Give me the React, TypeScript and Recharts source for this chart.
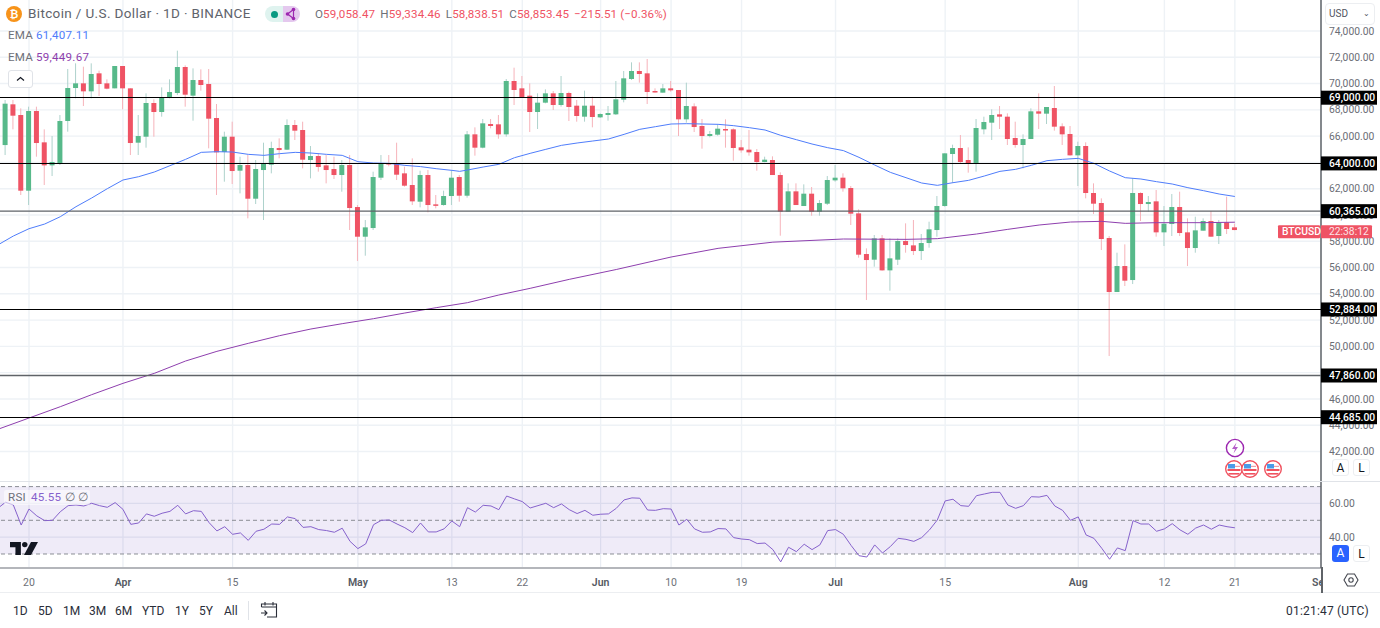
import React from "react";
import {
  ComposedChart, Bar, Line, XAxis, YAxis, CartesianGrid, ReferenceLine, ReferenceArea,
} from "recharts";

// Days are counted from 20 March; the first candle is 16 March.
const firstDay = -4;
const opens = [
  69560,65320,68420,67606,61847,67911,65526,63775,63877,67150,
  69661,70016,69408,70778,70016,69636,71336,69636,65501,65957,
  68520,67835,68926,69281,71260,69078,70270,69966,67378,64790,
  65957,63370,63801,61238,63420,63826,65095,64968,66845,66465,
  64181,64486,63775,63496,63040,63801,60604,58346,59006,62837,
  63950,63902,63167,62279,61011,63040,60808,60757,61442,62888,
  61467,66135,65121,66922,66897,66135,70195,69636,69078,67835,
  68546,69256,68368,69281,68317,67480,68317,67429,67607,67658,
  68774,70347,70956,70778,69433,69307,69636,69510,67277,68266,
  66770,66008,66110,66541,66516,65146,64968,64791,64030,64182,
  63040,60249,61797,60681,61620,60249,60858,62634,62838,62051,
  60123,57028,56596,58220,55785,56596,58017,57687,57256,57865,
  58854,60681,64639,65095,64182,63928,66516,67023,67658,67480,
  65857,65324,65780,67886,67709,68140,66744,66161,64537,65248,
  61671,60910,58246,54136,56114,55049,61671,60833,61036,58677,
  59311,60605,58677,57485,58804,59539,58398,59438,59058.47,
];
const highs = [
  70020,68750,68750,68114,68241,68241,66515,66008,67606,71107,
  71539,71285,71539,70981,70321,71336,71336,69636,67606,69255,
  68799,69712,70321,72503,71386,71158,71082,71107,68444,66338,
  67099,64435,64562,64181,65501,65577,65830,67277,67226,67099,
  65247,64689,64562,64435,64181,64562,60757,59615,63294,64562,
  64562,65501,63674,64308,63370,63421,61518,61848,63421,63040,
  66389,66668,67302,67302,67607,70347,71209,70575,70017,69256,
  69560,69433,70575,69383,68748,69459,69002,67734,68292,70195,
  70956,71615,71615,71869,69636,69966,70195,69510,70068,68495,
  67302,66389,66871,67277,66592,65704,66465,65019,64436,64461,
  63243,62406,62406,62330,62127,61137,62964,63801,63167,62203,
  60427,57459,58474,58474,58220,58220,59362,59616,58550,59489,
  61442,64690,65349,66085,65146,67303,67480,68038,68292,67734,
  67100,66136,68114,69256,68216,69814,66973,66770,65577,65527,
  62406,61264,58398,57129,57764,62787,61722,61442,61899,60681,
  61594,61772,59742,59869,59742,60300,59616,61391,59334.46,
];
const lows = [
  64435,64560,66515,61518,60757,64435,62279,62964,63801,66338,
  68875,68291,68875,69052,69560,69636,68038,64562,64562,65120,
  65957,67480,68875,69129,68241,67175,69458,65069,61518,62532,
  62355,61644,59742,60833,59615,63167,64308,64942,65704,63547,
  62786,63294,62405,62735,61771,58854,56500,56900,58854,62659,
  63700,62659,62152,60757,60579,60199,60503,60706,60757,61011,
  61315,64512,65070,66592,65806,65958,68368,68951,66313,66541,
  68495,67987,68241,67150,67099,67099,66668,67378,67175,67607,
  68571,70271,70068,68444,69307,69307,69383,66008,67023,66313,
  65044,65907,66034,65121,64131,64740,64512,63370,64004,63040,
  58423,60249,60757,60681,59945,59945,60757,62533,61772,59235,
  56749,53527,56064,55760,54237,56190,57129,56952,56571,57510,
  58347,60630,62457,63928,63218,63294,66136,65704,66542,65324,
  65121,63548,65780,66542,66922,66415,65324,64512,62203,61264,
  60072,57332,49265,54136,54592,54744,59540,60250,58347,57637,
  58398,58398,56114,57129,58804,58347,57789,58550,58838.51,
];
const closes = [
  65320,68470,67555,61847,67911,65475,63775,64029,67150,69661,
  70016,69408,70727,69966,69611,71336,69636,65475,66008,68520,
  67835,68951,69357,71260,69154,70270,69890,67327,64765,65957,
  63344,63801,61238,63496,63902,65095,64942,66845,66414,64207,
  64486,63649,63420,63040,63801,60528,58346,59057,62887,63902,
  63880,63065,62228,61036,63040,60757,60757,61442,62837,61467,
  66135,65121,66973,66770,66135,70195,69510,68951,67835,68546,
  69256,68368,69281,68216,67531,68317,67455,67683,67759,68799,
  70398,70956,70727,69357,69383,69636,69484,67277,68292,66693,
  66008,66161,66567,66465,65095,64917,64765,64030,64207,63040,
  60249,61797,60757,61620,60249,60909,62660,62837,62026,60098,
  56977,56571,58220,55785,56698,58017,57713,57256,57865,58905,
  60681,64690,65095,64030,63928,66618,67074,67607,67480,65780,
  65324,65780,67886,67709,68216,66719,66136,64537,65248,61671,
  60859,58169,54136,56114,54998,61671,60833,60985,58677,59336,
  60605,58626,57485,58829,59539,58347,59413,58930,58853.45,
];
const emaFastDays = [-4,-2,0,2,4,6,8,10,12,14,16,18,20,22,24,26,28,30,32,34,36,38,40,42,44,46,48,50,52,54,55,56,58,60,62,64,66,68,70,72,74,76,78,80,82,84,86,88,90,92,94,96,98,100,102,104,106,108,110,112,114,116,118,120,122,124,126,128,130,132,134,136,138,140,142,144,146,148,150,152,154];
const emaFast = [57712,58398,58955,59310,59868,60630,61290,62000,62660,62913,63268,63750,64232,64765,64816,64790,64613,64537,64664,64765,64714,64613,64537,64055,63953,63928,63775,63680,63522,63395,63319,63421,63649,63852,64359,64689,64994,65298,65476,65628,65780,66135,66516,66719,66922,66947,66922,66897,66795,66643,66465,66059,65729,65400,65121,64900,64385,63802,63243,62838,62432,62254,62457,62635,62964,63319,63472,63776,64131,64233,64309,63928,63345,62838,62736,62533,62356,62076,61848,61594,61407.11];
const emaSlowDays = [-4,0,4,8,12,16,20,24,28,32,36,40,44,48,52,56,60,64,69,75,82,88,95,104,112,116,121,125,129,133,137,140,144,150,154];
const emaSlow = [43685,44548,45410,46324,47186,47947,48886,49622,50230,50814,51322,51727,52108,52539,52945,53326,53909,54417,55100,55850,56800,57460,57930,58170,58144,58195,58550,58905,59235,59463,59514,59362,59413,59413,59449.67];
const rsi = [
  57.1,60.7,59.1,47.2,56.7,52.6,49.8,50,55.1,58.7,59.1,58.5,60.1,58.7,57.7,60.5,56.5,47.6,48.4,53.8,
  52.4,54.2,55.3,58.9,53.8,55.7,55.3,48.6,43.7,46.2,41.7,42.5,38.1,43.5,44.7,47.8,47.6,52,51,45.8,
  46.2,44.5,43.9,42.9,45.3,37.5,33.2,36,47.4,50,50.2,47.8,45.6,42.7,48.4,43.1,43.1,44.9,49.6,46.2,
  57.5,54.9,58.9,58.5,56.3,64.4,62.7,61.1,57.3,58.7,60.1,57.5,59.7,56.3,54,55.9,53,53.6,53.8,57.1,
  62.1,63.3,63.1,56.1,55.9,56.9,56.7,47.2,50.6,44.9,42.9,43.1,45.1,44.9,39.7,38.9,38.5,36.2,36.5,32.6,
  25.3,34,31.4,35.8,32.6,35.4,43.9,44.5,41.7,35,29,28.2,35.4,30.6,34.4,39.3,38.7,37.5,39.7,44.3,
  50.2,61.5,62.5,58.7,58.3,64.6,65.6,66.6,66.6,59.1,57.1,58.7,64,63.8,64.8,58.5,55.9,50,52,41.3,
  39.3,33.4,26.9,33.6,32,49.8,47.8,47.8,43.5,44.9,48,44.3,41.7,45.4,47.2,44.7,47.2,46.2,45.55,
];
const gridTicks = [42000,44000,46000,48000,50000,52000,54000,56000,58000,60000,62000,64000,66000,68000,70000,72000,74000];
// 64,000 and 48,000 sit fully behind the level tags in the picture.
const labelledTicks = [42000,44000,46000,50000,52000,54000,56000,58000,60000,62000,66000,68000,70000,72000,74000];
const levels = [69000, 64000, 60365, 52884, 47860, 44685];
const greyLevels = [60365, 47860];
const dateTickDays = [0,12,26,42,54,63,73,82,91,103,117,134,145,154,165];
const dateTickLabels = ["20","Apr","15","May","13","22","Jun","10","19","Jul","15","Aug","12","21","Sep"];
const monthLabels = ["Apr","May","Jun","Jul","Aug","Sep"];
const rangeButtons = ["1D","5D","1M","3M","6M","YTD","1Y","5Y","All"];
const ohlc = [["O","59,058.47"],["H","59,334.46"],["L","58,838.51"],["C","58,853.45"]];

const rows = opens.map((open, i) => {
  const d = firstDay + i;
  const fi = emaFastDays.indexOf(d);
  const si = emaSlowDays.indexOf(d);
  return {
    d, open, high: highs[i], low: lows[i], close: closes[i], rsi: rsi[i],
    fast: fi >= 0 ? emaFast[fi] : null,
    slow: si >= 0 ? emaSlow[si] : null,
  };
});

const FONT = "Roboto, sans-serif";
const xDomain: [number, number] = [-3.704, 165];
const priceDomain: [number, number] = [39755, 76359];
const money = (v: number) => v.toLocaleString("en-US", { minimumFractionDigits: 2, maximumFractionDigits: 2 });

const Candle = (p: any) => {
  const { x, y, width, height, payload } = p;
  const { open, close, high, low } = payload;
  const k = height / Math.max(high - low, 1);
  const top = y + (high - Math.max(open, close)) * k;
  const bot = y + (high - Math.min(open, close)) * k;
  const cx = x + width / 2;
  const up = close >= open;
  return (
    <g>
      <line x1={cx} x2={cx} y1={y} y2={y + height} stroke={up ? "#aed2cc" : "#f6b3ba"} strokeWidth={1} />
      <rect x={cx - 2.5} y={top} width={5} height={Math.max(bot - top, 1.5)} fill={up ? "#57b98a" : "#ef5364"} />
    </g>
  );
};

const Tag = (p: any) => {
  const { viewBox, text } = p;
  const x = viewBox.x + viewBox.width;
  return (
    <g>
      <rect x={x} y={viewBox.y - 7} width={56} height={14} fill="#000" />
      <text x={x + 8} y={viewBox.y + 3.6} fill="#fff" fontFamily={FONT} fontSize={10.3} fontWeight={500}>{text}</text>
    </g>
  );
};

const LiveTag = (p: any) => {
  const { viewBox } = p;
  const x = viewBox.x + viewBox.width;
  const y = viewBox.y + 0.6;
  return (
    <g>
      <rect x={x - 43} y={y - 6.5} width={42} height={13} rx={1} fill="#ef5364" />
      <text x={x - 39} y={y + 3.6} fill="#fff" fontFamily={FONT} fontSize={10.3} fontWeight={500}>BTCUSD</text>
      <rect x={x} y={y - 6.5} width={51} height={13} rx={1} fill="#ef5364" />
      <text x={x + 8} y={y + 3.6} fill="#fde4e6" fontFamily={FONT} fontSize={10.3}>22:38:12</text>
    </g>
  );
};

const DateTick = (p: any) => {
  const { x, y, payload } = p;
  const label = dateTickLabels[dateTickDays.indexOf(payload.value)];
  const month = monthLabels.includes(label);
  return (
    <text x={x} y={y + 10} textAnchor="middle" fontFamily={FONT} fontSize={10.5}
      fontWeight={month ? 600 : 400} fill={month ? "#555962" : "#6d7078"}>{label}</text>
  );
};

const abs = (left: number, top: number, extra: React.CSSProperties = {}): React.CSSProperties => ({
  position: "absolute", left, top, whiteSpace: "nowrap", fontFamily: FONT, lineHeight: 1, ...extra,
});

const Flag = ({ cx }: { cx: number }) => (
  <svg style={abs(cx - 10, 459, { width: 20, height: 20 })} viewBox="0 0 20 20">
    <circle cx="10" cy="10" r="8.3" fill="#fff" stroke="#f0525f" strokeWidth="1.4" />
    <rect x="3.5" y="10" width="13" height="2" fill="#f0525f" />
    <rect x="4.5" y="14" width="11" height="1.6" fill="#f0525f" />
    <rect x="4" y="5" width="7" height="4.5" fill="#4a9be8" />
    <rect x="11" y="6.8" width="5" height="1.2" fill="#f0a0a8" />
  </svg>
);

const ToggleBtn = ({ left, top, label, active }: { left: number; top: number; label: string; active?: boolean }) => (
  <div style={abs(left, top, {
    width: 17, height: 17, borderRadius: 3, background: active ? "#2962ff" : "#fff",
    border: active ? "none" : "1px solid #eceef1", color: active ? "#fff" : "#131722",
    fontSize: 12, textAlign: "center", lineHeight: active ? "17px" : "16px", boxSizing: "border-box",
  })}>{label}</div>
);

export default function App() {
  return (
    <div style={{ position: "fixed", left: 0, top: 0, width: 1380, height: 628, background: "#fff", overflow: "hidden" }}>
      <div style={{ position: "absolute", left: 0, top: 0 }}>
        <ComposedChart width={1380} height={481} data={rows} margin={{ top: 0, right: 0, bottom: 0, left: 0 }}>
          <CartesianGrid stroke="#eef2f6" strokeWidth={1.4}
            horizontalValues={gridTicks} verticalValues={dateTickDays} />
          <XAxis dataKey="d" type="number" domain={xDomain} allowDataOverflow hide ticks={dateTickDays} />
          <YAxis orientation="right" width={59} domain={priceDomain} allowDataOverflow ticks={labelledTicks}
            tickFormatter={money} tickLine={false} tickMargin={2} interval={0}
            axisLine={{ stroke: "#5f6368", strokeWidth: 1.5 }}
            tick={{ fontFamily: FONT, fontSize: 10.3, fill: "#6a6d75" }} />
          <Bar dataKey={(r: any) => [r.low, r.high]} barSize={7} shape={<Candle />} isAnimationActive={false} />
          <Line dataKey="fast" stroke="#4f7dfb" strokeWidth={1} dot={false} connectNulls isAnimationActive={false} />
          <Line dataKey="slow" stroke="#8e3fae" strokeWidth={1} dot={false} connectNulls isAnimationActive={false} />
        </ComposedChart>
      </div>

      {/* Level lines and their tags lie over the scale labels */}
      <div style={{ position: "absolute", left: 0, top: 0.7 }}>
        <ComposedChart width={1380} height={481} data={rows} margin={{ top: 0, right: 0, bottom: 0, left: 0 }}>
          <XAxis dataKey="d" type="number" domain={xDomain} allowDataOverflow hide />
          <YAxis orientation="right" width={59} domain={priceDomain} allowDataOverflow ticks={[]} tick={false} tickLine={false} axisLine={false} />
          {levels.map((v) => (
            <ReferenceLine key={v} y={v} stroke={greyLevels.includes(v) ? "#5f6368" : "#000"}
              strokeWidth={greyLevels.includes(v) ? 1.4 : 1} shapeRendering={greyLevels.includes(v) ? undefined : "crispEdges"}
              label={<Tag text={money(v)} />} />
          ))}
          <ReferenceLine y={58853.45} stroke="none" label={<LiveTag />} />
        </ComposedChart>
      </div>

      <div style={{ position: "absolute", left: 0, top: 482 }}>
        <ComposedChart width={1380} height={110} data={rows} margin={{ top: 0, right: 0, bottom: 0, left: 0 }}>
          <CartesianGrid stroke="#e9edf3" strokeWidth={1.2} horizontalValues={[40, 60]} verticalValues={dateTickDays} />
          <XAxis dataKey="d" type="number" domain={xDomain} allowDataOverflow ticks={dateTickDays} interval={0}
            height={24} tickLine={false} axisLine={{ stroke: "#b4b6bb", strokeWidth: 2 }} tick={<DateTick />} />
          <YAxis orientation="right" width={59} domain={[21.69, 72.73]} allowDataOverflow ticks={[40, 60]}
            tickFormatter={(v: number) => v.toFixed(2)} tickLine={false} tickMargin={2} interval={0}
            axisLine={{ stroke: "#5f6368", strokeWidth: 1.5 }}
            tick={{ fontFamily: FONT, fontSize: 10.3, fill: "#6a6d75" }} />
          <ReferenceArea y1={30} y2={70} fill="#7e57c2" fillOpacity={0.12} stroke="none" />
          {[70, 50, 30].map((v) => (
            <ReferenceLine key={v} y={v} stroke="#8b8e94" strokeDasharray="4 3" strokeWidth={1} />
          ))}
          <Line dataKey="rsi" stroke="#8662cc" strokeWidth={1} dot={false} isAnimationActive={false} />
        </ComposedChart>
      </div>

      {/* pane and footer dividers */}
      <div style={abs(0, 481, { width: 1380, height: 1, background: "#e0e3e8" })} />
      <div style={abs(0, 592, { width: 1380, height: 1, background: "#eceef1" })} />

      {/* right-hand scale corner */}
      <div style={abs(1322, 569, { width: 58, height: 23, background: "#fff" })} />
      <div style={abs(1321, 567, { width: 1.5, height: 26, background: "#5f6368" })} />
      <svg style={abs(1343, 572, { width: 16, height: 16 })} viewBox="0 0 16 16">
        <path d="M4.5 2 H11.5 L15 8 L11.5 14 H4.5 L1 8 Z" fill="none" stroke="#44474f" strokeWidth="1.1" />
        <circle cx="8" cy="8" r="2.2" fill="none" stroke="#44474f" strokeWidth="1.1" />
      </svg>

      {/* USD selector */}
      <div style={abs(1325, 3, { width: 50, height: 22, background: "#fff", border: "1px solid #eceef1", borderRadius: 4, boxSizing: "border-box", fontSize: 10, color: "#50535e", padding: "5px 0 0 3px" })}>
        USD
        <span style={{ position: "absolute", right: 4, top: 6, fontSize: 8 }}>⌄</span>
      </div>

      {/* legend header */}
      <svg style={abs(6, 6, { width: 16, height: 16 })} viewBox="0 0 16 16">
        <circle cx="8" cy="8" r="8" fill="#f7931a" />
        <text x="8" y="11.6" fontSize="10.5" fontFamily={FONT} fontWeight="700" textAnchor="middle" fill="#fff">₿</text>
      </svg>
      <div style={abs(28, 7, { fontSize: 13.5, letterSpacing: 0.36, color: "#60636b" })}>Bitcoin / U.S. Dollar · 1D · BINANCE</div>
      <div style={abs(265, 6, { width: 18, height: 16, background: "#dff3ef", borderRadius: "8px 0 0 8px" })} />
      <div style={abs(283, 6, { width: 17, height: 16, background: "#e4c8ee", borderRadius: "0 8px 8px 0" })} />
      <div style={abs(271, 10.5, { width: 7, height: 7, borderRadius: 4, background: "#089981" })} />
      <svg style={abs(284, 7, { width: 14, height: 14 })} viewBox="0 0 14 14">
        <path d="M9.5 2.5 L3.5 7 L9.5 11.5 Z" fill="none" stroke="#9c27b0" strokeWidth="1.2" />
        <circle cx="9.5" cy="2.5" r="1.8" fill="#9c27b0" />
        <circle cx="3.5" cy="7" r="1.8" fill="#9c27b0" />
        <circle cx="9.5" cy="11.5" r="1.8" fill="#9c27b0" />
      </svg>
      <div style={abs(315, 8.5, { fontSize: 11.6, letterSpacing: 0.13, color: "#ef5364", display: "flex", gap: 5 })}>
        {ohlc.map(([k, v]) => (
          <span key={k}><span style={{ color: "#6d7078" }}>{k}</span>{v}</span>
        ))}
        <span>−215.51 (−0.36%)</span>
      </div>
      <div style={abs(8, 30, { fontSize: 11.6, letterSpacing: 0.25, color: "#6d7078" })}>EMA</div>
      <div style={abs(36, 30, { fontSize: 11.6, letterSpacing: 0.25, color: "#4f7dfb" })}>61,407.11</div>
      <div style={abs(8, 51.5, { fontSize: 11.6, letterSpacing: 0.25, color: "#6d7078" })}>EMA</div>
      <div style={abs(36, 51.5, { fontSize: 11.6, letterSpacing: 0.25, color: "#8e3fae" })}>59,449.67</div>
      <div style={abs(8, 70, { width: 25, height: 18, border: "1px solid #e0e3e8", borderRadius: 3, background: "#fff", boxSizing: "border-box" })}>
        <svg width="23" height="16" viewBox="0 0 23 16">
          <path d="M8 9.5 L11.5 6.5 L15 9.5" fill="none" stroke="#131722" strokeWidth="1.2" />
        </svg>
      </div>

      {/* RSI legend and logo */}
      <div style={abs(4, 490, { width: 86, height: 15, background: "rgba(255,255,255,.55)", borderRadius: 2 })} />
      <div style={abs(8, 492, { fontSize: 11.6, letterSpacing: 0.25, color: "#6d7078" })}>RSI</div>
      <div style={abs(31, 492, { fontSize: 11.6, letterSpacing: 0.25, color: "#8662cc" })}>45.55</div>
      <div style={abs(65, 492, { fontSize: 11.6, color: "#6d7078" })}>∅</div>
      <div style={abs(78, 492, { fontSize: 11.6, color: "#6d7078" })}>∅</div>
      <svg style={abs(10, 541, { width: 28, height: 15 })} viewBox="0 0 36 19">
        <path d="M0 1 H14 V18 H7 V8 H0 Z" fill="#131722" />
        <circle cx="19" cy="4.5" r="3.5" fill="#131722" />
        <path d="M27 1 H36 L27 18 H18 Z" fill="#131722" />
      </svg>

      {/* event icons */}
      <svg style={abs(1225, 438, { width: 20, height: 20 })} viewBox="0 0 20 20">
        <circle cx="10" cy="10" r="8.6" fill="#fff" stroke="#9c27b0" strokeWidth="1.4" />
        <path d="M11.5 4.5 L7 11 H10 L8.5 15.5 L13 9 H10 Z" fill="#b45cc9" />
      </svg>
      <Flag cx={1234} />
      <Flag cx={1250} />
      <Flag cx={1272.5} />

      <ToggleBtn left={1332} top={459} label="A" />
      <ToggleBtn left={1353} top={459} label="L" />
      <ToggleBtn left={1332} top={545} label="A" active />
      <ToggleBtn left={1353} top={545} label="L" />

      {/* footer */}
      {rangeButtons.map((b, i) => (
        <div key={b} style={abs([13, 38, 63, 89, 115, 142, 175, 199, 224][i], 604.5, { fontSize: 12, color: "#2a2e39" })}>{b}</div>
      ))}
      <div style={abs(248, 601, { width: 1, height: 19, background: "#e0e3e8" })} />
      <svg style={abs(260, 601, { width: 18, height: 18 })} viewBox="0 0 18 18">
        <path d="M1.5 6 V3 H16.5 V16 H7 M1.5 6 H16.5 M5 1 V4.5 M13 1 V4.5 M1 12 H7 M4.5 9.5 L7 12 L4.5 14.5" fill="none" stroke="#2a2e39" strokeWidth="1.1" />
      </svg>
      <div style={abs(1286, 605, { fontSize: 12, letterSpacing: 0.2, color: "#2a2e39" })}>01:21:47 (UTC)</div>
    </div>
  );
}
